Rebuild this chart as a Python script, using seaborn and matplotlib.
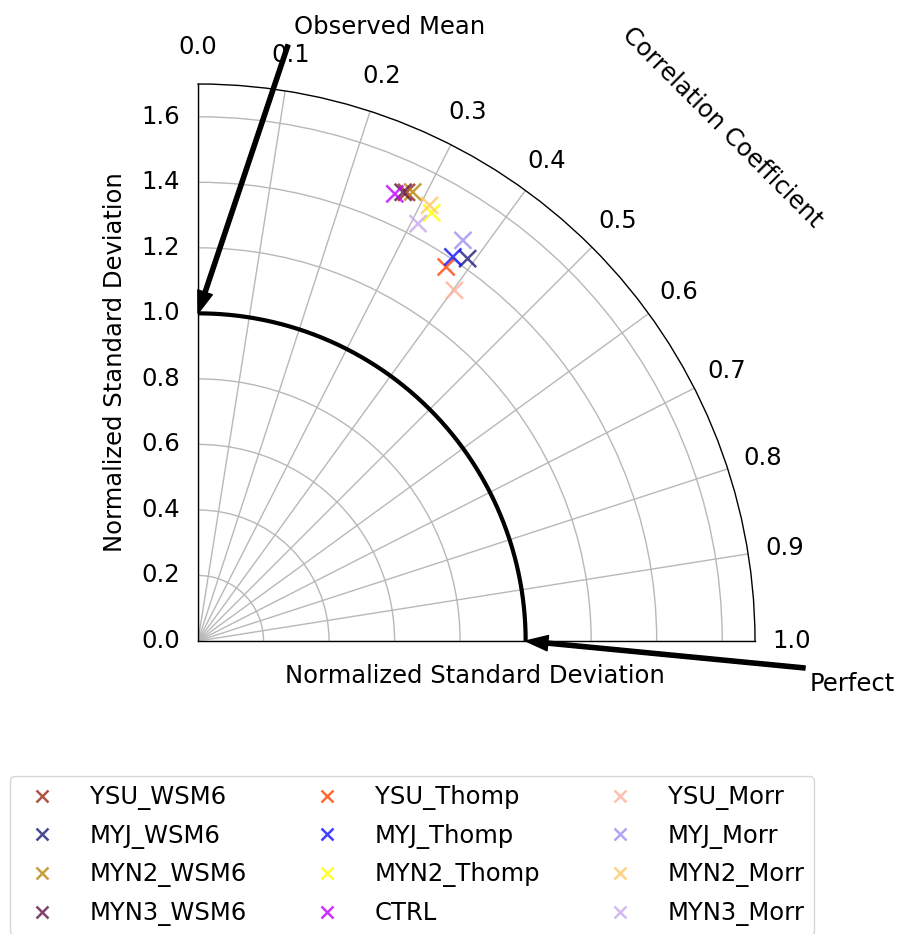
import numpy as np
import pandas as pd
import matplotlib
matplotlib.use("Agg")
import matplotlib.pyplot as plt
import matplotlib.transforms as mtransforms
import seaborn as sns

# ---- data ----
models = ["YSU_WSM6", "MYJ_WSM6", "MYN2_WSM6", "MYN3_WSM6",
          "YSU_Thomp", "MYJ_Thomp", "MYN2_Thomp", "CTRL",
          "YSU_Morr", "MYJ_Morr", "MYN2_Morr", "MYN3_Morr"]
corr = [0.277, 0.391, 0.284, 0.273,
        0.373, 0.373, 0.318, 0.264,
        0.402, 0.372, 0.311, 0.309]
std = [1.510, 1.428, 1.519, 1.506,
       1.370, 1.407, 1.489, 1.491,
       1.326, 1.466, 1.506, 1.440]
colors = ["#9a2a12", "#1c1c7a", "#b8860b", "#5e1448",
          "#ff4500", "#1010ff", "#ffff00", "#c000ff",
          "#ffb09a", "#9c90f0", "#ffc860", "#c8a8f0"]
corr_ticks = [1.0, 0.9, 0.8, 0.7, 0.6, 0.5, 0.4, 0.3, 0.2, 0.1, 0.0]
std_ticks = [0.0, 0.2, 0.4, 0.6, 0.8, 1.0, 1.2, 1.4, 1.6]

df = pd.DataFrame({"model": models, "corr": corr, "std": std})
df["theta"] = (1 - df["corr"]) * np.pi / 2

W, H = 897, 934
fig = plt.figure(figsize=(W / 100, H / 100), dpi=100)
ox, oy, R = 198, 641, 557
ax = fig.add_axes([ox / W, (H - oy) / H, R / W, R / H], projection="polar")
ax.set_thetamin(0)
ax.set_thetamax(90)
ax.set_rlim(0, 1.7)

fs = 17.5
ax.set_thetagrids([(1 - c) * 90 for c in corr_ticks],
                  labels=[f"{c:.1f}" for c in corr_ticks], fontsize=fs)
ax.set_rgrids(std_ticks, labels=[""] * len(std_ticks))
ax.grid(True, color="#b8b8b8", lw=1)
ax.tick_params(axis="x", pad=16)
for sp in ax.spines.values():
    sp.set_color("black")
    sp.set_linewidth(1.0)

# radial tick labels on the left edge
shift = mtransforms.ScaledTranslation(-18 / 100, 0, fig.dpi_scale_trans)
for s in std_ticks:
    ax.text(np.pi / 2, s, f"{s:.1f}", transform=ax.transData + shift,
            ha="right", va="center", fontsize=fs, clip_on=False)

# thick reference arc at std = 1
arc_t = np.linspace(0, np.pi / 2, 300)
ax.plot(arc_t, np.ones_like(arc_t), color="black", lw=3, zorder=3)

palette = dict(zip(models, colors))
sns.scatterplot(data=df, x="theta", y="std", hue="model", hue_order=models,
                palette=palette, marker="x", s=150, linewidth=1.8,
                alpha=0.8, ax=ax, zorder=5)
ax.set_xlabel("")
ax.set_ylabel("")

# texts
fig.text(115 / W, 1 - 362 / H, "Normalized Standard Deviation", rotation=90,
         ha="center", va="center", fontsize=fs)
fig.text(475 / W, 1 - 676 / H, "Normalized Standard Deviation",
         ha="center", va="center", fontsize=fs)
fig.text(722 / W, 1 - 127 / H, "Correlation Coefficient", rotation=-45,
         ha="center", va="center", fontsize=fs, rotation_mode="anchor")
fig.text(390 / W, 1 - 27 / H, "Observed Mean", ha="center", va="center", fontsize=fs)
fig.text(852 / W, 1 - 684 / H, "Perfect", ha="center", va="center", fontsize=fs)

arrow = dict(facecolor="black", edgecolor="black", width=3, headwidth=11, headlength=16)
ax.annotate("", xy=(np.pi / 2, 1.0), xycoords="data",
            xytext=(288 / W, 1 - 45 / H), textcoords="figure fraction",
            arrowprops=arrow, annotation_clip=False)
ax.annotate("", xy=(0, 1.0), xycoords="data",
            xytext=(805 / W, 1 - 668 / H), textcoords="figure fraction",
            arrowprops=arrow, annotation_clip=False)

sns.move_legend(ax, "upper left", bbox_to_anchor=(10 / W, 1 - 776 / H),
                bbox_transform=fig.transFigure, ncol=3, title=None,
                fontsize=fs, frameon=True, labelspacing=0.56,
                columnspacing=2.35, handletextpad=1.0, handlelength=1.9,
                borderpad=0.38, borderaxespad=0, markerscale=0.75)

fig.savefig("out.png", dpi=100)
